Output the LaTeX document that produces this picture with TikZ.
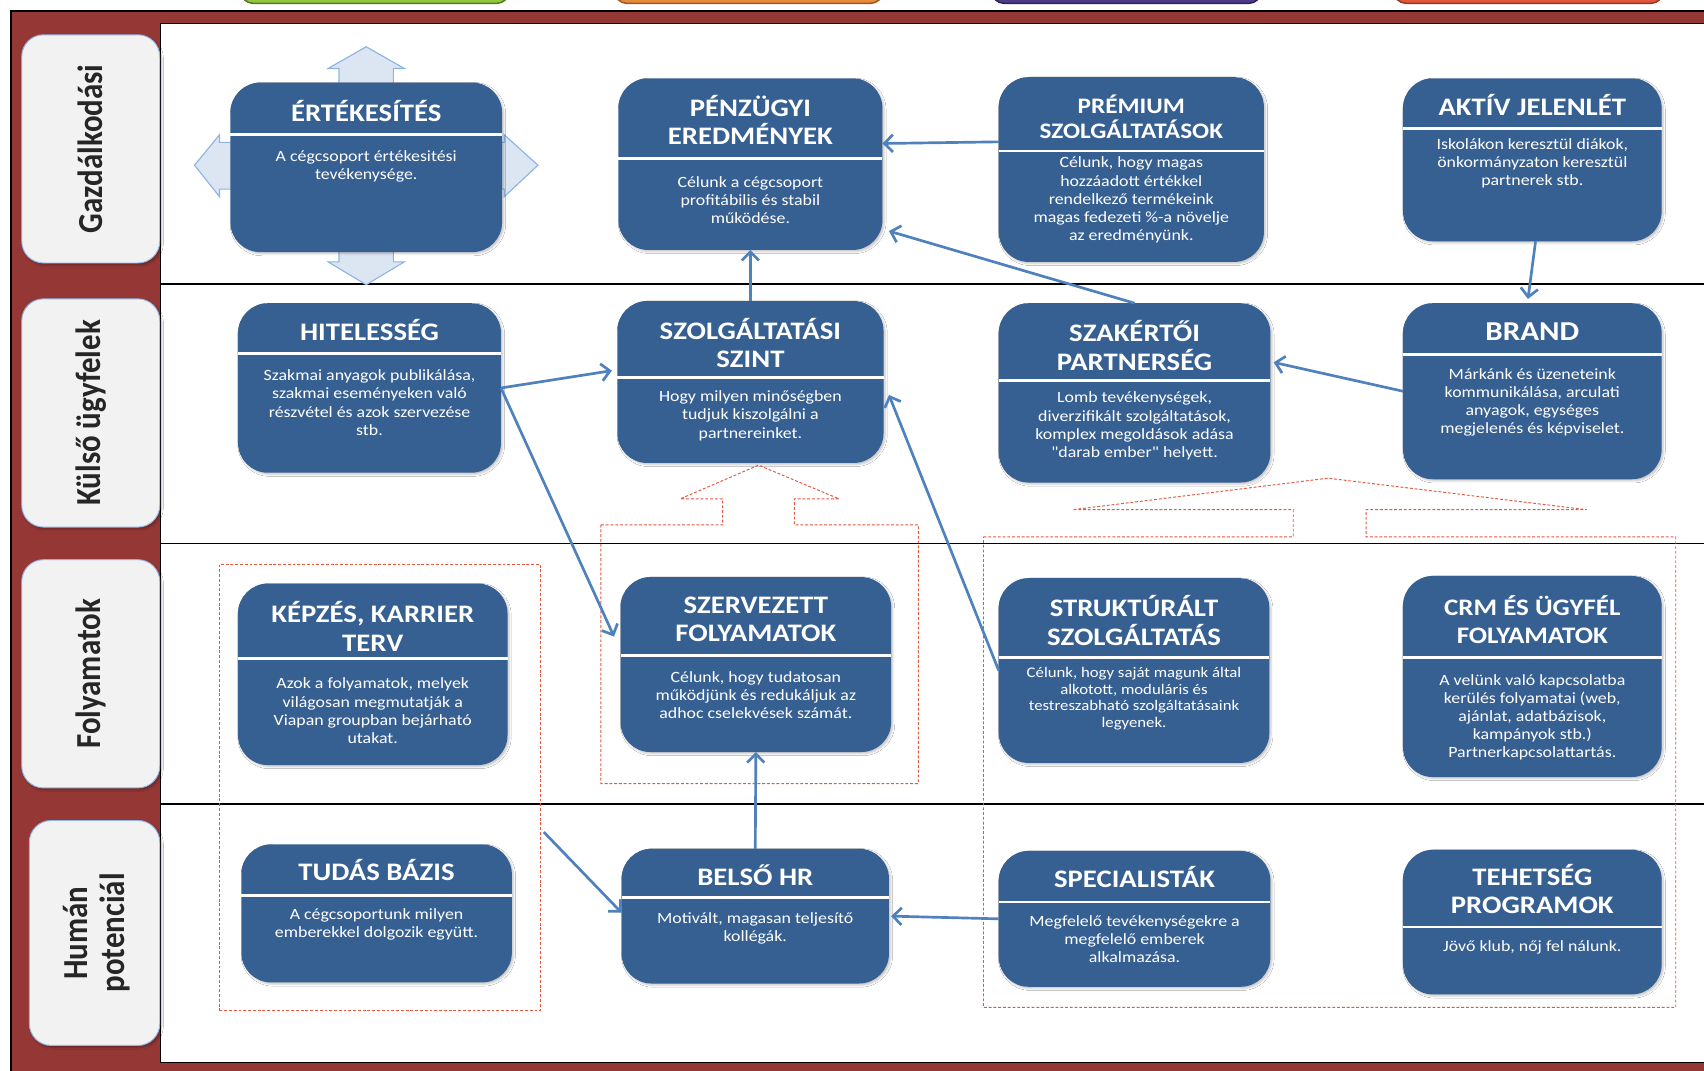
\documentclass[tikz,border=0pt]{standalone}
\usepackage{fontspec}
\setmainfont{Carlito}[FakeStretch=1.14]
\newfontfamily\savbetu{Carlito}[FakeStretch=0.88]
\newfontfamily\egyenes{Carlito}[FakeStretch=1.14, Ligatures=TeXOff]
\usepackage{xcolor}
\usetikzlibrary{arrows.meta, calc, fit, shadows.blur}

\definecolor{keretpiros}{HTML}{953735}
\definecolor{dobozkek}{HTML}{376092}
\definecolor{nyilkek}{HTML}{4F81BD}
\definecolor{halvanykek}{HTML}{DCE6F2}
\definecolor{szelkek}{HTML}{8EB4E3}
\definecolor{savszurke}{HTML}{F2F2F2}
\definecolor{szaggpiros}{HTML}{E5573F}
\definecolor{fulzold}{HTML}{92C83E}
\definecolor{fulnarancs}{HTML}{E98A3B}
\definecolor{fullila}{HTML}{4E3A8C}
\definecolor{fulpiros}{HTML}{E2553A}

\begin{document}
\begin{tikzpicture}[x=0.02cm, y=-0.02cm,
    doboz/.style={fill=dobozkek, rounded corners=0.55cm, inner sep=0pt, outer sep=0pt,
      blur shadow={shadow xshift=0.9pt, shadow yshift=-0.9pt, shadow blur radius=1pt, shadow blur steps=4, shadow opacity=22}},
    valaszto/.style={draw=white, line width=1.5pt},
    cim/.style={text=white, align=center, font=\bfseries\fontsize{13.2}{14.8}\selectfont},
    szoveg/.style={text=white, align=center, font=\fontsize{8.2}{9.5}\selectfont},
    savdoboz/.style={fill=savszurke, draw=szelkek, line width=0.5pt, rounded corners=0.4cm,
      inner sep=0pt, blur shadow={shadow xshift=0.9pt, shadow yshift=-1pt, shadow blur radius=1pt, shadow blur steps=4, shadow opacity=30}},
    savcim/.style={rotate=90, align=center, text=black!85, font=\savbetu\bfseries\fontsize{18.4}{19}\selectfont},
    keret/.style={draw=szaggpiros, line width=0.5pt, dash pattern=on 1.5pt off 1pt},
    nyil/.style={draw=nyilkek, line width=1.4pt, -{Straight Barb[length=4.5pt, width=9pt]}},
    ful/.style={line width=0.8pt, rounded corners=6pt}]

    \useasboundingbox (0,0) rectangle (1568,985);

    % Colour tabs cut by the top edge
    \draw[ful, fill=fulzold, draw=fulzold!60!black] (222,-30) rectangle (468,3);
    \draw[ful, fill=fulnarancs, draw=fulnarancs!65!black] (566,-30) rectangle (812,3);
    \draw[ful, fill=fullila, draw=fullila!60!black] (913,-30) rectangle (1160,3);
    \draw[ful, fill=fulpiros, draw=fulpiros!65!black] (1283,-30) rectangle (1530,3);

    % Frame and lanes
    \fill[keretpiros] (10,10) rectangle (1620,1010);
    \draw[line width=0.8pt] (10,1010) -- (10,10) -- (1620,10);
    \filldraw[fill=white, draw=black, line width=0.6pt] (148,22) rectangle (1620,978);
    \foreach \sor in {261,500,740}
        \draw[line width=0.9pt] (148,\sor) -- (1620,\sor); % lane borders

    % Lane titles
    \node[savdoboz, fit={(20,32) (147,242)}] (gazd) {};
    \node[savcim] (gazd-t) at (gazd.center) {Gazdálkodási};
    \node[savdoboz, fit={(20,275) (147,485)}] (kulso) {};
    \node[savcim] (kulso-t) at (kulso.center) {Külső ügyfelek};
    \node[savdoboz, fit={(20,515) (147,725)}] (folyam) {};
    \node[savcim] (folyam-t) at (folyam.center) {Folyamatok};
    \node[savdoboz, fit={(27,755) (147,962)}] (human) {};
    \node[savcim] (human-t) at ($(human.center)+(2,0)$) {Humán\\potenciál};

    % Four-way arrow behind the sales box
    \draw[fill=halvanykek, draw=szelkek, line width=0.6pt]
        (337,43) -- (372,63) -- (362,63) -- (362,131) -- (464,131) -- (464,124) -- (495,152)
        -- (464,181) -- (464,174) -- (362,174) -- (362,241) -- (372,241) -- (337,262)
        -- (302,241) -- (312,241) -- (312,174) -- (202,174) -- (202,181) -- (179,152)
        -- (202,124) -- (202,131) -- (312,131) -- (312,63) -- (302,63) -- cycle;

    % Dashed groupings
    \node[keret, fit={(202,519) (497,930)}, inner sep=0pt] (balkeret) {};
    \draw[keret] (553,483) -- (665,483) -- (665,459) -- (626,459) -- (698,428) -- (772,459)
        -- (731,459) -- (731,483) -- (845,483) -- (845,721) -- (553,721) -- cycle;
    \draw[keret] (905,494) -- (1190,494) -- (1190,469) -- (987,469) -- (1222,440) -- (1460,469)
        -- (1257,469) -- (1257,494) -- (1542,494) -- (1542,927) -- (905,927) -- cycle;

    % Row 1: Gazdálkodási
    \node[doboz, fit={(212,76) (462,232)}] (ertek) {};
    \draw[valaszto] ($(ertek.north west)+(0,48)$) -- ($(ertek.north east)+(0,48)$);
    \node[cim] (ertek-c) at ($(ertek.north)+(0,26)$) {ÉRTÉKESÍTÉS};
    \node[szoveg] (ertek-t) at ($(ertek.north)+(0,77)$) {A cégcsoport értékesitési\\tevékenysége.};

    \node[doboz, fit={(569,72) (812,230)}] (penz) {};
    \draw[valaszto] ($(penz.north west)+(0,74)$) -- ($(penz.north east)+(0,74)$);
    \node[cim] (penz-c) at ($(penz.north)+(0,38)$) {PÉNZÜGYI\\EREDMÉNYEK};
    \node[szoveg] (penz-t) at ($(penz.north)+(0,112)$) {Célunk a cégcsoport\\profitábilis és stabil\\működése.};

    \node[doboz, fit={(919,71) (1163,241)}] (prem) {};
    \draw[valaszto] ($(prem.north west)+(0,68)$) -- ($(prem.north east)+(0,68)$);
    \node[cim, font=\bfseries\fontsize{11.6}{13.5}\selectfont] (prem-c) at ($(prem.north)+(0,36.5)$) {PRÉMIUM\\SZOLGÁLTATÁSOK};
    \node[szoveg] (prem-t) at ($(prem.north)+(0,113)$) {Célunk, hogy magas\\hozzáadott értékkel\\rendelkező termékeink\\magas fedezeti \%-a növelje\\az eredményünk.};

    \node[doboz, fit={(1291,72) (1529,222)}] (aktiv) {};
    \draw[valaszto] ($(aktiv.north west)+(0,46)$) -- ($(aktiv.north east)+(0,46)$);
    \node[cim] (aktiv-c) at ($(aktiv.north)+(0,25)$) {AKTÍV JELENLÉT};
    \node[szoveg] (aktiv-t) at ($(aktiv.north)+(0,78)$) {Iskolákon keresztül diákok,\\önkormányzaton keresztül\\partnerek stb.};

    % Row 2: Külső ügyfelek
    \node[doboz, fit={(219,279) (461,435)}] (hitel) {};
    \draw[valaszto] ($(hitel.north west)+(0,46)$) -- ($(hitel.north east)+(0,46)$);
    \node[cim] (hitel-c) at ($(hitel.north)+(0,25)$) {HITELESSÉG};
    \node[szoveg] (hitel-t) at ($(hitel.north)+(0,91.5)$) {Szakmai anyagok publikálása,\\szakmai eseményeken való\\részvétel és azok szervezése\\stb.};

    \node[doboz, fit={(568,277) (813,426)}] (szolg) {};
    \draw[valaszto] ($(szolg.north west)+(0,70)$) -- ($(szolg.north east)+(0,70)$);
    \node[cim] (szolg-c) at ($(szolg.north)+(0,38.5)$) {SZOLGÁLTATÁSI\\SZINT};
    \node[szoveg] (szolg-t) at ($(szolg.north)+(0,105.5)$) {Hogy milyen minőségben\\tudjuk kiszolgálni a\\partnereinket.};

    \node[doboz, fit={(919,279) (1169,444)}] (szakert) {};
    \draw[valaszto] ($(szakert.north west)+(0,71)$) -- ($(szakert.north east)+(0,71)$);
    \node[cim] (szakert-c) at ($(szakert.north)+(0,39)$) {SZAKÉRTŐI\\PARTNERSÉG};
    \node[szoveg] (szakert-t) at ($(szakert.north)+(0,113)$) {Lomb tevékenységek,\\diverzifikált szolgáltatások,\\komplex megoldások adása\\{\egyenes"darab ember"} helyett.};

    \node[doboz, fit={(1291,279) (1529,441)}] (brand) {};
    \draw[valaszto] ($(brand.north west)+(0,47)$) -- ($(brand.north east)+(0,47)$);
    \node[cim, font=\bfseries\fontsize{14.3}{16}\selectfont] (brand-c) at ($(brand.north)+(0,26)$) {BRAND};
    \node[szoveg] (brand-t) at ($(brand.north)+(0,91.5)$) {Márkánk és üzeneteink\\kommunikálása, arculati\\anyagok, egységes\\megjelenés és képviselet.};

    % Row 3: Folyamatok
    \node[doboz, fit={(219,537) (467,704)}] (kepzes) {};
    \draw[valaszto] ($(kepzes.north west)+(0,69)$) -- ($(kepzes.north east)+(0,69)$);
    \node[cim] (kepzes-c) at ($(kepzes.north)+(0,39.5)$) {KÉPZÉS, KARRIER\\TERV};
    \node[szoveg] (kepzes-t) at ($(kepzes.north)+(0,117)$) {Azok a folyamatok, melyek\\világosan megmutatják a\\Viapan groupban bejárható\\utakat.};

    \node[doboz, fit={(571,531) (820,692)}] (szerv) {};
    \draw[valaszto] ($(szerv.north west)+(0,72)$) -- ($(szerv.north east)+(0,72)$);
    \node[cim] (szerv-c) at ($(szerv.north)+(0,39)$) {SZERVEZETT\\FOLYAMATOK};
    \node[szoveg] (szerv-t) at ($(szerv.north)+(0,108.5)$) {Célunk, hogy tudatosan\\működjünk és redukáljuk az\\adhoc cselekvések számát.};

    \node[doboz, fit={(919,532) (1168,702)}] (strukt) {};
    \draw[valaszto] ($(strukt.north west)+(0,73)$) -- ($(strukt.north east)+(0,73)$);
    \node[cim] (strukt-c) at ($(strukt.north)+(0,39)$) {STRUKTÚRÁLT\\SZOLGÁLTATÁS};
    \node[szoveg, font=\fontsize{7.7}{8.6}\selectfont] (strukt-t) at ($(strukt.north)+(0,111)$) {Célunk, hogy saját magunk által\\alkotott, moduláris és\\testreszabható szolgáltatásaink\\legyenek.};

    \node[doboz, fit={(1291,530) (1529,715)}] (crm) {};
    \draw[valaszto] ($(crm.north west)+(0,75)$) -- ($(crm.north east)+(0,75)$);
    \node[cim, font=\bfseries\fontsize{12.4}{14.8}\selectfont] (crm-c) at ($(crm.north)+(0,40.5)$) {CRM ÉS ÜGYFÉL\\FOLYAMATOK};
    \node[szoveg] (crm-t) at ($(crm.north)+(0,130)$) {A velünk való kapcsolatba\\kerülés folyamatai (web,\\ajánlat, adatbázisok,\\kampányok stb.)\\Partnerkapcsolattartás.};

    % Row 4: Humán potenciál
    \node[doboz, fit={(222,777) (471,904)}] (tudas) {};
    \draw[valaszto] ($(tudas.north west)+(0,47)$) -- ($(tudas.north east)+(0,47)$);
    \node[cim] (tudas-c) at ($(tudas.north)+(0,24)$) {TUDÁS BÁZIS};
    \node[szoveg] (tudas-t) at ($(tudas.north)+(0,74)$) {A cégcsoportunk milyen\\emberekkel dolgozik együtt.};

    \node[doboz, fit={(572,781) (818,905)}] (belso) {};
    \draw[valaszto] ($(belso.north west)+(0,45)$) -- ($(belso.north east)+(0,45)$);
    \node[cim] (belso-c) at ($(belso.north)+(0,24)$) {BELSŐ HR};
    \node[szoveg] (belso-t) at ($(belso.north)+(0,73)$) {Motivált, magasan teljesítő\\kollégák.};

    \node[doboz, fit={(919,783) (1169,908)}] (spec) {};
    \draw[valaszto] ($(spec.north west)+(0,47)$) -- ($(spec.north east)+(0,47)$);
    \node[cim] (spec-c) at ($(spec.north)+(0,24)$) {SPECIALISTÁK};
    \node[szoveg] (spec-t) at ($(spec.north)+(0,81)$) {Megfelelő tevékenységekre a\\megfelelő emberek\\alkalmazása.};

    \node[doboz, fit={(1291,782) (1529,915)}] (tehets) {};
    \draw[valaszto] ($(tehets.north west)+(0,71)$) -- ($(tehets.north east)+(0,71)$);
    \node[cim] (tehets-c) at ($(tehets.north)+(0,36)$) {TEHETSÉG\\PROGRAMOK};
    \node[szoveg] (tehets-t) at ($(tehets.north)+(0,90)$) {Jövő klub, nőj fel nálunk.};

    % Connectors
    \draw[nyil] ($(prem.north west)!0.35!(prem.south west)$) -- ($(penz.north east)!0.38!(penz.south east)$);
    \draw[nyil] (szakert.north) -- ($(penz.north east)!0.89!(penz.south east)+(6,0)$);
    \draw[nyil] (szolg.north) -- (penz.south);
    \draw[nyil] ($(aktiv.south)+(3,0)$) -- ($(brand.north)+(-4,-4)$);
    \draw[nyil] (brand.west) -- ($(szakert.north east)!0.33!(szakert.south east)+(3,0)$);
    \draw[nyil] (hitel.east) -- ($(szolg.north west)!0.43!(szolg.south west)+(-5,0)$);
    \draw[nyil] (hitel.east) -- ($(szerv.north west)!0.34!(szerv.south west)+(-6,0)$);
    \draw[nyil] (strukt.west) -- ($(szolg.north east)!0.58!(szolg.south east)+(5,0)$);
    \draw[nyil] (belso.north) -- (szerv.south);
    \draw[nyil] (spec.west) -- ($(belso.east)+(2,0)$);
    \draw[nyil] ($(balkeret.north east)!0.6!(balkeret.south east)+(3,0)$) -- ($(belso.north west)!0.475!(belso.south west)$);
\end{tikzpicture}
\end{document}
